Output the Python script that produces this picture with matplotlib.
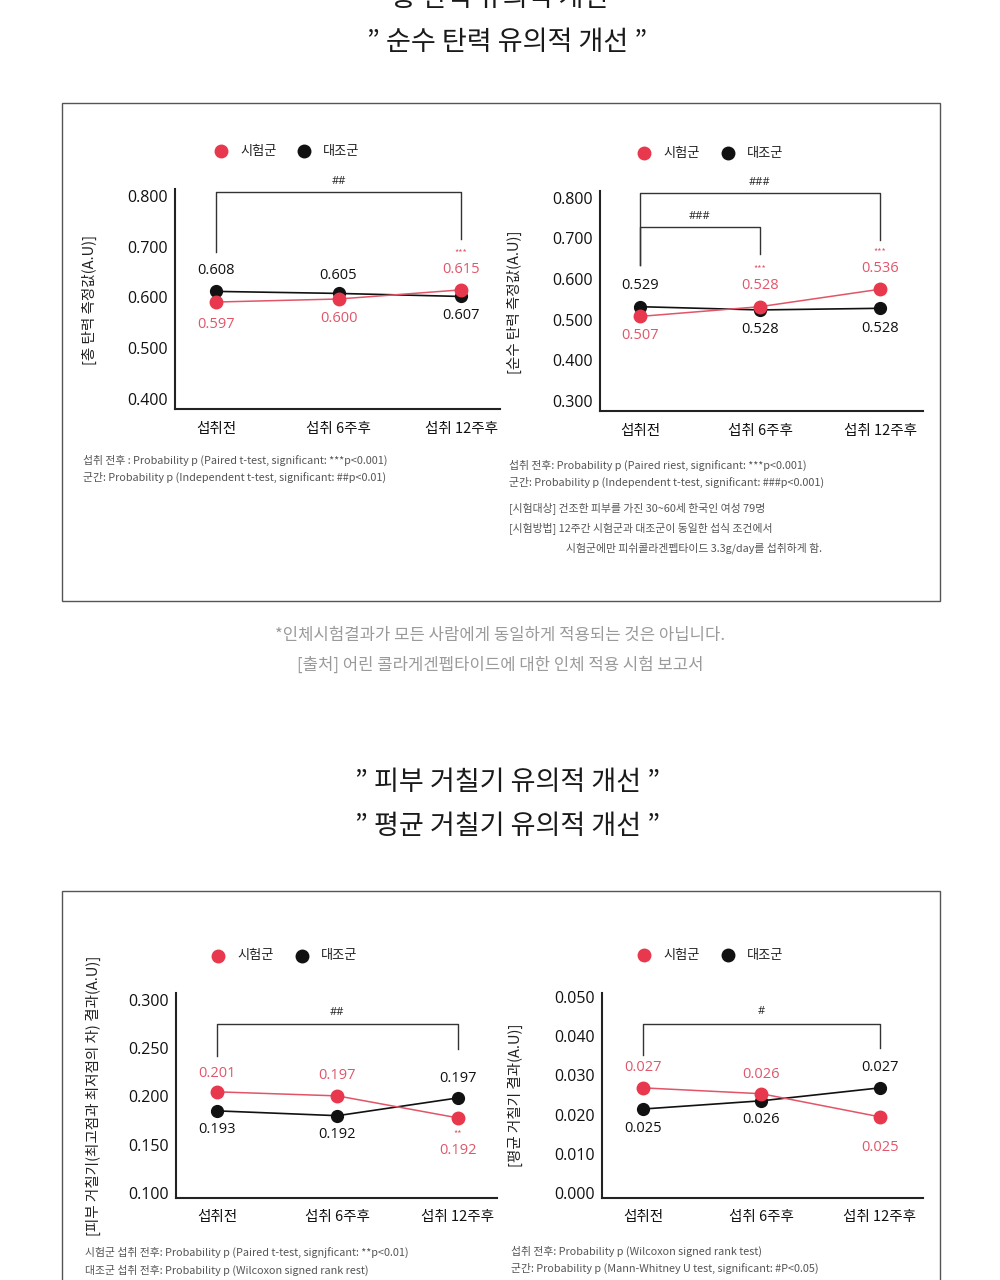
import matplotlib.pyplot as plt
from matplotlib.patches import Rectangle
from matplotlib.lines import Line2D

plt.rcParams['font.family'] = ['Noto Sans CJK KR', 'DejaVu Sans']

# ---- data ----
categories = ["섭취전", "섭취 6주후", "섭취 12주후"]
legend_names = ["시험군", "대조군"]

# 총 탄력
c1_test = [0.591, 0.597, 0.615]
c1_ctrl = [0.612, 0.608, 0.602]
c1_test_labels = ["0.597", "0.600", "0.615"]
c1_ctrl_labels = ["0.608", "0.605", "0.607"]
c1_test_stars = ["", "", "***"]
c1_yticks = [0.400, 0.500, 0.600, 0.700, 0.800]

# 순수 탄력
c2_test = [0.508, 0.532, 0.575]
c2_ctrl = [0.532, 0.524, 0.528]
c2_test_labels = ["0.507", "0.528", "0.536"]
c2_ctrl_labels = ["0.529", "0.528", "0.528"]
c2_test_stars = ["", "***", "***"]
c2_yticks = [0.300, 0.400, 0.500, 0.600, 0.700, 0.800]

# 피부 거칠기
c3_test = [0.2047, 0.2005, 0.1777]
c3_ctrl = [0.185, 0.180, 0.1984]
c3_test_labels = ["0.201", "0.197", "0.192"]
c3_ctrl_labels = ["0.193", "0.192", "0.197"]
c3_test_stars = ["", "", "**"]
c3_yticks = [0.100, 0.150, 0.200, 0.250, 0.300]

# 평균 거칠기
c4_test = [0.0268, 0.0253, 0.0194]
c4_ctrl = [0.0214, 0.0235, 0.0268]
c4_test_labels = ["0.027", "0.026", "0.025"]
c4_ctrl_labels = ["0.025", "0.026", "0.027"]
c4_test_stars = ["", "", ""]
c4_yticks = [0.000, 0.010, 0.020, 0.030, 0.040, 0.050]

RED = "#e8384d"
RED_LINE = "#e25468"
RED_TXT = "#e0566a"
BLACK = "#111111"
NUM_FONT = ["Open Sans", "DejaVu Sans"]

W, H = 1000, 1280
fig = plt.figure(figsize=(10, 12.8), dpi=100)
fig.patch.set_facecolor("white")


def fx(px):
    return px / W


def fy(py):
    return 1 - py / H


def axes_rect(left, top, right, bottom):
    return [fx(left), fy(bottom), (right - left) / W, (bottom - top) / H]


def legend(x_red, x_black, y):
    for xp, col, name in [(x_red, RED, legend_names[0]), (x_black, BLACK, legend_names[1])]:
        fig.add_artist(Line2D([fx(xp)], [fy(y)], marker="o", ms=9, color=col,
                              transform=fig.transFigure))
        fig.text(fx(xp + 19), fy(y), name, fontsize=9.5, va="center", ha="left",
                 color="#222222", fontweight="medium")


def draw_chart(rect, test, ctrl, test_lab, ctrl_lab, test_stars, test_off, ctrl_off,
               yticks, ylim, xlim, brackets):
    ax = fig.add_axes(rect)
    x = list(range(len(categories)))
    ax.plot(x, ctrl, color=BLACK, lw=1.2, marker="o", ms=8.5, zorder=3)
    ax.plot(x, test, color=RED_LINE, lw=1.1, marker="o", ms=9, mfc=RED, mec=RED, zorder=4)
    for i in x:
        ax.annotate(ctrl_lab[i], (i, ctrl[i]), xytext=(0, ctrl_off[i]), textcoords="offset pixels",
                    ha="center", va="center", fontsize=10.5, color=BLACK, family=NUM_FONT)
        ax.annotate(test_lab[i], (i, test[i]), xytext=(0, test_off[i]), textcoords="offset pixels",
                    ha="center", va="center", fontsize=10.5, color=RED_TXT, family=NUM_FONT)
        if test_stars[i]:
            ax.annotate(test_stars[i], (i, test[i]), xytext=(0, test_off[i] + 17),
                        textcoords="offset pixels", ha="center", va="center",
                        fontsize=6.5, color=RED_TXT)
    for i, j, top, lb, rb, txt, ty in brackets:
        ax.plot([i, i, j, j], [lb, top, top, rb], color="#333333", lw=1, clip_on=False)
        ax.text((i + j) / 2, ty, txt, ha="center", va="center", fontsize=8, color="#222222",
                family=NUM_FONT)
    ax.set_xlim(*xlim)
    ax.set_ylim(*ylim)
    ax.set_yticks(yticks)
    ax.set_yticklabels([f"{v:.3f}" for v in yticks], fontsize=11.5, family=NUM_FONT,
                       color=BLACK)
    ax.set_xticks(x)
    ax.set_xticklabels(categories, fontsize=10.5, fontweight="medium", color=BLACK)
    ax.tick_params(axis="y", length=0, pad=5)
    ax.tick_params(axis="x", length=0, pad=9)
    for s in ["top", "right"]:
        ax.spines[s].set_visible(False)
    for s in ["left", "bottom"]:
        ax.spines[s].set_linewidth(1.5)
        ax.spines[s].set_color("#222222")
    ax.set_facecolor("none")
    return ax


# ---- page titles ----
title = dict(fontsize=19.5, ha="center", va="center", color="#1a1a1a")
fig.text(0.5, fy(-1), "\u201d 총 탄력 유의적 개선 \u201d", **title)
fig.text(fx(507), fy(42), "\u201d 순수 탄력 유의적 개선 \u201d", **title)

# boxes
fig.add_artist(Rectangle((fx(62), fy(601)), (940 - 62) / W, (601 - 103) / H, fill=False,
                         ec="#555555", lw=1, transform=fig.transFigure))
fig.add_artist(Rectangle((fx(62), fy(1300)), (940 - 62) / W, (1300 - 891) / H, fill=False,
                         ec="#555555", lw=1, transform=fig.transFigure))

ylab = dict(rotation=90, fontsize=10.5, ha="center", va="center", color="#222222")

# ---- chart 1 ----
legend(221, 304, 151)
draw_chart(axes_rect(175, 189, 500, 409), c1_test, c1_ctrl, c1_test_labels, c1_ctrl_labels,
           c1_test_stars, [-22, -20, 20], [21, 18, -19], c1_yticks, (0.380, 0.814),
           (-0.335, 2.318), [(0, 2, 0.808, 0.690, 0.715, "##", 0.828)])
fig.text(fx(89), fy(300), "[총 탄력 측정값(A.U)]", **ylab)

# ---- chart 2 ----
legend(644, 728, 153)
draw_chart(axes_rect(600, 191, 923, 411), c2_test, c2_ctrl, c2_test_labels, c2_ctrl_labels,
           c2_test_stars, [-19, 21, 21], [21, -20, -20], c2_yticks, (0.275, 0.817),
           (-0.333, 2.358), [(0, 2, 0.812, 0.635, 0.697, "###", 0.837),
                             (0, 1, 0.729, 0.635, 0.662, "###", 0.753)])
fig.text(fx(514), fy(302), "[순수 탄력 측정값(A.U)]", **ylab)

# footnotes top
foot = dict(fontsize=7.8, color="#555555", ha="left", va="center")
fig.text(fx(83), fy(460), "섭취 전후 : Probability p (Paired t-test, significant: ***p<0.001)", **foot)
fig.text(fx(83), fy(477), "군간: Probability p (Independent t-test, significant: ##p<0.01)", **foot)
fig.text(fx(509), fy(465), "섭취 전후: Probability p (Paired riest, significant: ***p<0.001)", **foot)
fig.text(fx(509), fy(482), "군간: Probability p (Independent t-test, significant: ###p<0.001)", **foot)
fig.text(fx(509), fy(509), "[시험대상] 건조한 피부를 가진 30~60세 한국인 여성 79명", **foot)
fig.text(fx(509), fy(529), "[시험방법] 12주간 시험군과 대조군이 동일한 섭식 조건에서", **foot)
fig.text(fx(566), fy(548), "시험군에만 피쉬콜라겐펩타이드 3.3g/day를 섭취하게 함.", **foot)

# middle notes
note = dict(fontsize=12, ha="center", va="center", color="#9a9a9a")
fig.text(0.5, fy(635), "*인체시험결과가 모든 사람에게 동일하게 적용되는 것은 아닙니다.", **note)
fig.text(0.5, fy(665), "[출처] 어린 콜라게겐펩타이드에 대한 인체 적용 시험 보고서", **note)

fig.text(fx(508), fy(782), "\u201d 피부 거칠기 유의적 개선 \u201d", **title)
fig.text(fx(508), fy(826), "\u201d 평균 거칠기 유의적 개선 \u201d", **title)

# ---- chart 3 ----
legend(218, 302, 956)
draw_chart(axes_rect(176, 993, 497, 1198), c3_test, c3_ctrl, c3_test_labels, c3_ctrl_labels,
           c3_test_stars, [18, 20, -33], [-19, -19, 19], c3_yticks, (0.0948, 0.307),
           (-0.34, 2.324), [(0, 2, 0.2751, 0.242, 0.249, "##", 0.2865)])
fig.text(fx(93), fy(1096), "[피부 거칠기(최고점과 최저점의 차) 결과(A.U)]", **ylab)

# ---- chart 4 ----
legend(644, 728, 955)
draw_chart(axes_rect(602, 993, 923, 1198), c4_test, c4_ctrl, c4_test_labels, c4_ctrl_labels,
           c4_test_stars, [20, 19, -31], [-19, -19, 20], c4_yticks, (-0.0013, 0.051),
           (-0.346, 2.363), [(0, 2, 0.0431, 0.0352, 0.037, "#", 0.0462)])
fig.text(fx(515), fy(1095), "[평균 거칠기 결과(A.U)]", **ylab)

# footnotes bottom
fig.text(fx(85), fy(1252), "시험군 섭취 전후: Probability p (Paired t-test, signjficant: **p<0.01)", **foot)
fig.text(fx(85), fy(1270), "대조군 섭취 전후: Probability p (Wilcoxon signed rank rest)", **foot)
fig.text(fx(511), fy(1251), "섭취 전후: Probability p (Wilcoxon signed rank test)", **foot)
fig.text(fx(511), fy(1268), "군간: Probability p (Mann-Whitney U test, significant: #P<0.05)", **foot)

fig.savefig("out.png", dpi=100)
